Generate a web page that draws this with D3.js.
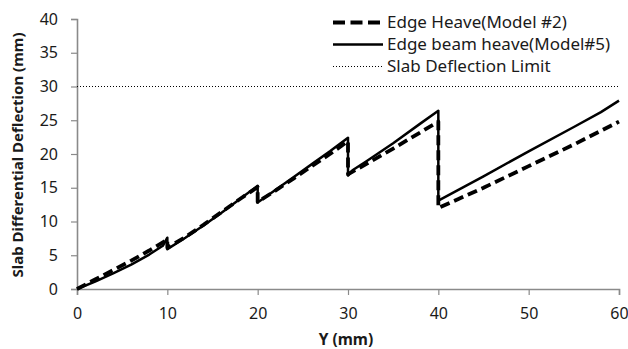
<!DOCTYPE html>
<html>
<head>
<meta charset="utf-8">
<script src="https://cdn.jsdelivr.net/npm/d3@7"></script>
<style>
  html, body { margin: 0; padding: 0; background: #fff; }
  svg { display: block; }
  text { font-family: "Noto Sans", "DejaVu Sans", sans-serif; fill: #1a1a1a; }
</style>
</head>
<body>
<svg id="chart" width="628" height="349"></svg>
<script>
// ---- data ----
const xTicks = [0, 10, 20, 30, 40, 50, 60];
const yTicks = [0, 5, 10, 15, 20, 25, 30, 35, 40];

const model2X = [0, 2, 4, 6, 8, 9.5, 10, 10, 12, 14, 16, 18, 20, 20, 22, 24, 26, 28, 30, 30, 32, 35, 38, 40, 40, 45, 50, 55, 60];
const model2Y = [0, 1.4, 2.8, 4.2, 5.7, 6.9, 7.3, 6.1, 7.7, 9.5, 11.4, 13.3, 15.1, 12.9, 14.6, 16.4, 18.2, 20.0, 21.9, 17.0, 18.5, 20.8, 23.2, 24.8, 12.0, 15.0, 18.2, 21.4, 24.8];

const model5X = [0, 2, 4, 6, 8, 9.5, 10, 10, 12, 14, 16, 18, 20, 20, 22, 24, 26, 28, 30, 30, 30.5, 32, 35, 38, 40, 40, 45, 50, 55, 58, 60];
const model5Y = [0, 1.1, 2.3, 3.6, 5.1, 6.4, 7.6, 5.9, 7.6, 9.4, 11.3, 13.3, 15.3, 12.8, 14.7, 16.6, 18.5, 20.4, 22.4, 16.8, 17.6, 18.9, 21.6, 24.5, 26.4, 13.1, 16.7, 20.4, 24.0, 26.2, 27.9];

const limitX = [0, 60];
const limitY = [30, 30];

const legendLabels = ["Edge Heave(Model #2)", "Edge beam heave(Model#5)", "Slab Deflection Limit"];
const xTitle = "Y (mm)";
const yTitle = "Slab Differential Deflection (mm)";

// ---- layout ----
const svg = d3.select("#chart");
const mLeft = 77, mRight = 619, mTop = 19, mBottom = 289;

const x = d3.scaleLinear().domain([0, 60]).range([mLeft, mRight]);
const y = d3.scaleLinear().domain([0, 40]).range([mBottom, mTop]);

const axisColor = "#8a8a8a";

// X axis
const gx = svg.append("g").attr("transform", `translate(0,${mBottom})`)
  .call(d3.axisBottom(x).tickValues(xTicks).tickSize(6).tickPadding(13).tickFormat(d3.format("d")));
gx.select(".domain").attr("stroke", axisColor).attr("stroke-width", 1.6);
gx.selectAll(".tick line").attr("stroke", axisColor).attr("stroke-width", 1.2);
gx.selectAll(".tick text").style("font-size", "16px").style("font-family", "'Noto Sans', sans-serif").attr("fill", "#1a1a1a");

// Y axis
const gy = svg.append("g").attr("transform", `translate(${mLeft},0)`)
  .call(d3.axisLeft(y).tickValues(yTicks).tickSize(6).tickPadding(13).tickFormat(d3.format("d")));
gy.select(".domain").attr("stroke", axisColor).attr("stroke-width", 1.6);
gy.selectAll(".tick line").attr("stroke", axisColor).attr("stroke-width", 1.2);
gy.selectAll(".tick text").style("font-size", "16px").style("font-family", "'Noto Sans', sans-serif").attr("fill", "#1a1a1a");

// Titles
svg.append("text").attr("x", 346).attr("y", 345).attr("text-anchor", "middle")
  .style("font-size", "15.5px").style("font-weight", "bold").text(xTitle);
svg.append("text").attr("transform", `translate(23,${(mTop + mBottom) / 2 + 1}) rotate(-90)`)
  .attr("text-anchor", "middle").style("font-size", "15px").style("font-weight", "bold").text(yTitle);

// Lines
const line = d3.line().x(d => x(d[0])).y(d => y(d[1]));
const zip = (a, b) => a.map((v, i) => [v, b[i]]);

svg.append("path").datum(zip(limitX, limitY)).attr("d", line)
  .attr("fill", "none").attr("stroke", "#000").attr("stroke-width", 1.1).attr("stroke-dasharray", "1,2");

svg.append("path").datum(zip(model5X, model5Y)).attr("d", line)
  .attr("fill", "none").attr("stroke", "#000").attr("stroke-width", 2.5).attr("stroke-linejoin", "round");

svg.append("path").datum(zip(model2X, model2Y)).attr("d", line)
  .attr("fill", "none").attr("stroke", "#000").attr("stroke-width", 3.8)
  .attr("stroke-dasharray", "10,5").attr("stroke-linejoin", "round");

// Legend
const legendStyles = [
  { w: 3.8, dash: "12,5.5" },
  { w: 2.5, dash: null },
  { w: 1.1, dash: "1,2" }
];
const lg = svg.append("g");
legendLabels.forEach((lab, i) => {
  const cy = 22.5 + i * 22;
  const l = lg.append("line").attr("x1", 333).attr("x2", 383).attr("y1", cy).attr("y2", cy)
    .attr("stroke", "#000").attr("stroke-width", legendStyles[i].w);
  if (legendStyles[i].dash) l.attr("stroke-dasharray", legendStyles[i].dash);
  lg.append("text").attr("x", 387).attr("y", cy).attr("dy", "0.35em")
    .style("font-size", "17px").text(lab);
});
</script>
</body>
</html>
